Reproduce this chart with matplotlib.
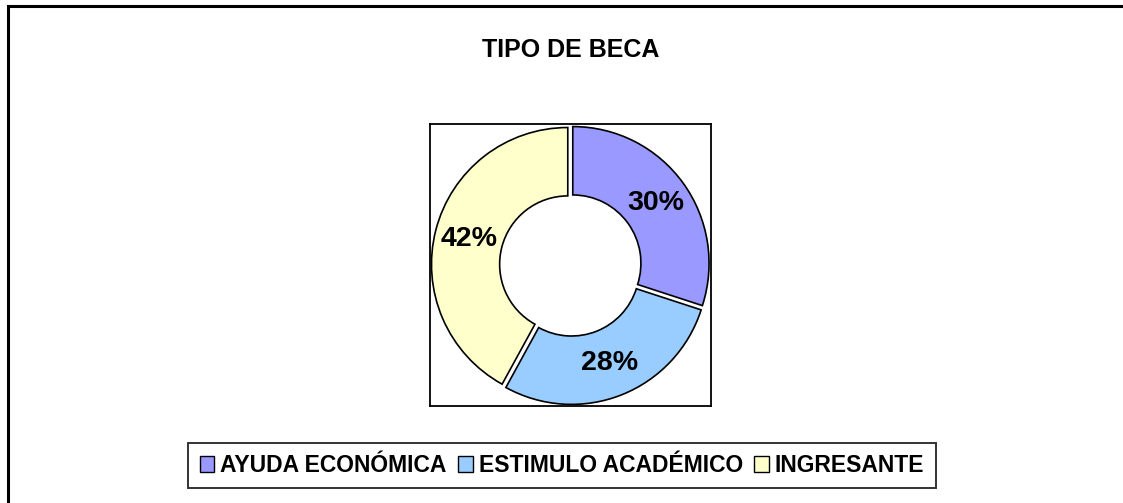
import matplotlib
matplotlib.use("Agg")
import matplotlib.pyplot as plt
from matplotlib.patches import Patch
from matplotlib.lines import Line2D

categories = ["AYUDA ECONÓMICA", "ESTIMULO ACADÉMICO", "INGRESANTE"]
values = [30, 28, 42]
colors = ["#9999FF", "#99CCFF", "#FFFFCC"]
title = "TIPO DE BECA"

plt.rcParams['font.family'] = ['Liberation Sans', 'DejaVu Sans']

W, H = 1123, 503
fig = plt.figure(figsize=(W / 100, H / 100), dpi=100)
fig.patch.set_facecolor("white")

# outer frame (left and top edges visible)
fig.add_artist(Line2D([7.5 / W, 7.5 / W, 1122 / W], [0, 1 - 5.5 / H, 1 - 5.5 / H],
                      transform=fig.transFigure, color="black", lw=2.2,
                      solid_joinstyle="miter"))

# title
fig.text(571 / W, 1 - 57 / H, title, ha="center", va="baseline",
         fontsize=18, fontweight="bold")

# donut axes (plot area box)
ax = fig.add_axes([430 / W, 1 - 406 / H, 281 / W, 282 / H])
wedges, texts, autotexts = ax.pie(
    values, colors=colors, startangle=90, counterclock=False,
    radius=0.97, explode=[0.02] * len(values),
    wedgeprops=dict(width=0.485, edgecolor="black", linewidth=1.2),
    autopct="%1.0f%%", pctdistance=0.75,
    textprops=dict(fontsize=20.5, fontweight="bold", color="black"))
ax.set_frame_on(True)
ax.set_xlim(-1.0, 1.0)
ax.set_ylim(-1.0, 1.0)
ax.set_aspect("auto")
ax.set_xticks([])
ax.set_yticks([])
for s in ax.spines.values():
    s.set_visible(True)
    s.set_linewidth(1.3)
    s.set_color("black")

# legend
handles = [Patch(facecolor=c, edgecolor="black", linewidth=1.0) for c in colors]
leg = fig.legend(handles, categories, loc="center", ncol=3,
                 bbox_to_anchor=(562 / W, 1 - 465.5 / H),
                 prop=dict(size=16.5, weight="bold"),
                 handlelength=0.65, handleheight=0.65, handletextpad=0.25,
                 columnspacing=0.5, borderpad=0.5, fancybox=False,
                 frameon=True, borderaxespad=0)
leg.get_frame().set_edgecolor("black")
leg.get_frame().set_linewidth(1.4)

fig.savefig("out.png", dpi=100, facecolor="white")
